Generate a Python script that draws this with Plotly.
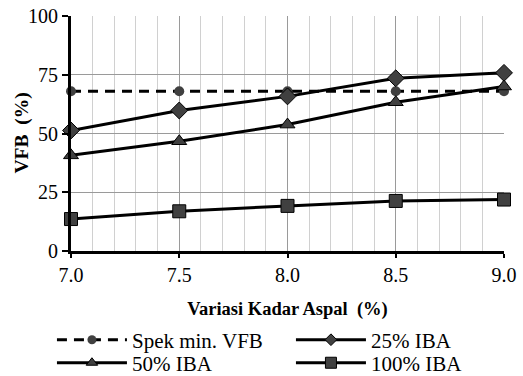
import plotly.graph_objects as go

kadar_aspal = [7.0, 7.5, 8.0, 8.5, 9.0]
spek_min_vfb = [68, 68, 68, 68, 68]
iba_25 = [51.3, 59.8, 65.8, 73.5, 75.8]
iba_50 = [40.7, 46.7, 53.8, 63.3, 70.0]
iba_100 = [13.6, 16.9, 19.2, 21.3, 21.9]
x_ticktext = ["7.0", "7.5", "8.0", "8.5", "9.0"]
y_ticks = [0, 25, 50, 75, 100]

FONT = "Times New Roman, Liberation Serif, serif"
MFILL = "#404040"

# name, values, symbol, plot marker size, dash, marker outline, legend marker size, legend row
series = [
    ("Spek min. VFB", spek_min_vfb, "circle", 10, "10px,7px", 0, 9, "legend"),
    ("25% IBA", iba_25, "diamond", 13, "solid", 1, 9, "legend"),
    ("50% IBA", iba_50, "triangle-up", 13, "solid", 1, 10, "legend2"),
    ("100% IBA", iba_100, "square", 13, "solid", 1, 11, "legend2"),
]

fig = go.Figure()
for (name, vals, sym, size, dash, lw, ls, lg) in series:
    fig.add_trace(go.Scatter(
        x=kadar_aspal, y=vals, name=name, mode="lines+markers", showlegend=False,
        line=dict(color="black", width=3, dash=dash),
        marker=dict(symbol=sym, size=size, color=MFILL, line=dict(color="black", width=lw)),
        cliponaxis=False))
# legend entries (smaller markers, as in the reference legend)
for (name, vals, sym, size, dash, lw, ls, lg) in series:
    fig.add_trace(go.Scatter(
        x=[None], y=[None], name=name, mode="lines+markers", showlegend=True, legend=lg,
        line=dict(color="black", width=3, dash=dash),
        marker=dict(symbol=sym, size=ls, color=MFILL, line=dict(color="black", width=lw))))

legend_common = dict(
    orientation="h", xref="paper", yref="paper", x=-0.044, xanchor="left", yanchor="middle",
    itemwidth=70, entrywidth=154, entrywidthmode="pixels",
    font=dict(family=FONT, size=21, color="black"),
    tracegroupgap=0, itemsizing="trace", bgcolor="rgba(0,0,0,0)",
)

fig.update_layout(
    width=523, height=376,
    margin=dict(l=71, r=19, t=16, b=125, autoexpand=False),
    paper_bgcolor="white", plot_bgcolor="white",
    font=dict(family=FONT, size=20, color="black"),
    showlegend=True,
    legend=dict(legend_common, y=-0.379),
    legend2=dict(legend_common, y=-0.477),
    annotations=[dict(
        text="<b>VFB  (%)</b>", xref="paper", yref="paper", x=0, y=0.5,
        xanchor="center", yanchor="middle", xshift=-50, textangle=-90, showarrow=False,
        font=dict(family=FONT, size=19.5, color="black"),
    )],
)
fig.update_xaxes(
    range=[7.0, 9.0], tickvals=kadar_aspal, ticktext=x_ticktext,
    showline=True, linecolor="black", linewidth=3,
    ticks="outside", ticklen=4, tickwidth=2, tickcolor="black",
    showgrid=True, gridcolor="#9a9a9a", gridwidth=1,
    minor=dict(dtick=0.1, tick0=7.0, showgrid=True, gridcolor="#d0d0d0", gridwidth=1),
    zeroline=False, automargin=False, ticklabeloverflow="allow",
    tickfont=dict(family=FONT, size=20),
    title=dict(text="<b>Variasi Kadar Aspal  (%)</b>", font=dict(family=FONT, size=18.5), standoff=18),
)
fig.update_yaxes(
    range=[0, 100], tickvals=y_ticks, ticksuffix="\u00a0\u00a0",
    showline=True, linecolor="black", linewidth=3,
    ticks="outside", ticklen=6, tickwidth=2, tickcolor="black",
    showgrid=True, gridcolor="#9a9a9a", gridwidth=1,
    zeroline=False, automargin=False, ticklabeloverflow="allow",
    tickfont=dict(family=FONT, size=20),
)

# remove the page's default 8px body margin so the figure fills the window
fig.write_html("out.html", config={"displayModeBar": False},
               post_script="document.body.style.margin='0';")
